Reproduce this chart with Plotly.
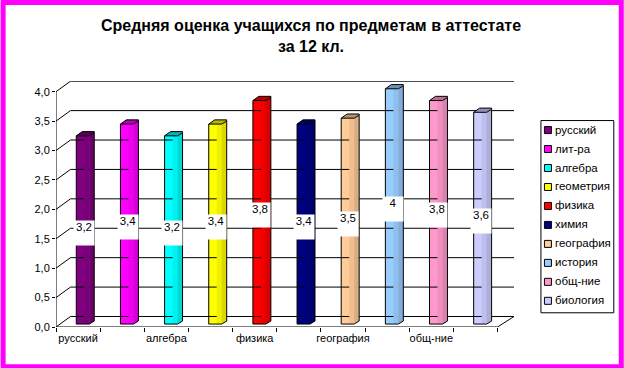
import plotly.graph_objects as go

subjects = ["русский", "лит-ра", "алгебра", "геометрия", "физика", "химия", "география", "история", "общ-ние", "биология"]
values = [3.2, 3.4, 3.2, 3.4, 3.8, 3.4, 3.5, 4.0, 3.8, 3.6]
value_labels = ["3,2", "3,4", "3,2", "3,4", "3,8", "3,4", "3,5", "4", "3,8", "3,6"]
colors = ["#800080", "#FF00FF", "#00FFFF", "#FFFF00", "#FF0000", "#000080", "#FFCC99", "#99CCFF", "#FF99CC", "#CCCCFF"]
y_ticks = [0, 0.5, 1, 1.5, 2, 2.5, 3, 3.5, 4]
y_tick_labels = ["0,0", "0,5", "1,0", "1,5", "2,0", "2,5", "3,0", "3,5", "4,0"]
x_label_every = 2

W, H = 624, 368
X0, X_BACK_R = 55.5, 514.5
X_FRONT_R = 498.0
Y0, Y4, Y_TOP = 326.7, 91.7, 81.0
PX_X = (X_FRONT_R - X0) / len(subjects)
PX_Y = (Y0 - Y4) / 4
DX, DY = 14.5 / PX_X, 10.5 / PX_Y
x_max = (X_BACK_R - X0) / PX_X - 0.5
y_max = (Y0 - Y_TOP) / PX_Y


def shade(hex_color, f):
    r, g, b = (int(hex_color[i:i + 2], 16) for i in (1, 3, 5))
    return f"rgb({int(r * f)},{int(g * f)},{int(b * f)})"


def px(x):
    return (x - X0) / (X_BACK_R - X0)


def py(y):
    return (Y0 - y) / (Y0 - Y_TOP)


fig = go.Figure()
BLACK = dict(color="black", width=1)

# Perspective gridlines and floor
for v in y_ticks:
    fig.add_trace(go.Scatter(x=[-0.5, -0.5 + DX, x_max], y=[v, v + DY, v + DY], mode="lines", line=BLACK, hoverinfo="skip"))
fig.add_trace(go.Scatter(x=[-0.5, -0.5], y=[0, 4], mode="lines", line=BLACK, hoverinfo="skip"))
fig.add_trace(go.Scatter(x=[-0.5, 9.5, x_max], y=[0, 0, DY], mode="lines", line=BLACK, hoverinfo="skip"))

# Cylinders
bar_shift = 7.2 / PX_X
half = 9.0 / PX_X
lift = 0.05
rise = 3.0 / PX_Y
cap = 4.0 / PX_Y
split = 5.0 / PX_X
mid = 1.0 / PX_X
for i, (v, c) in enumerate(zip(values, colors)):
    cx = i + bar_shift
    l, r = cx - half, cx + half
    s = r - split
    m = cx - mid
    fig.add_trace(go.Bar(x=[(l + s) / 2], y=[v], base=lift, width=[s - l], marker=dict(color=c, line=dict(width=0)), hoverinfo="skip"))
    fig.add_trace(go.Scatter(x=[m, s + 0.01, s + 0.01, m, m], y=[lift, lift, v + lift, v + lift, lift],
                             mode="none", fill="toself", fillcolor=shade(c, 0.94), hoverinfo="skip"))
    fig.add_trace(go.Scatter(x=[s, r, r, s, s], y=[lift, lift + rise, v + lift + rise, v + lift, lift],
                             mode="none", fill="toself", fillcolor=shade(c, 0.85), hoverinfo="skip"))
    fig.add_trace(go.Scatter(x=[l, l, s, r, r], y=[v + lift, lift, lift, lift + rise, v + lift + rise],
                             mode="lines", line=BLACK, hoverinfo="skip"))
    fig.add_trace(go.Scatter(x=[l, s, r, r, l + 6 / PX_X, l], y=[v + lift, v + lift, v + lift + rise, v + lift + rise + cap * 0.3, v + lift + rise + cap * 0.3, v + lift],
                             mode="lines", fill="toself", fillcolor=shade(c, 0.72), line=BLACK, hoverinfo="skip"))

annotations = []
for i, (v, t) in enumerate(zip(values, value_labels)):
    annotations.append(dict(x=i + 5.5 / PX_X, y=v / 2, text=t, showarrow=False, width=20, height=24, bgcolor="white",
                            valign="top", align="center", borderpad=0, font=dict(family="Liberation Sans", size=11.5, color="black")))

# Legend box
LX0, LX1, LY0, LY1 = 541.5, 614.5, 120.5, 312.5
shapes = [dict(type="rect", xref="paper", yref="paper", x0=px(LX0), x1=px(LX1), y0=py(LY1), y1=py(LY0),
               fillcolor="white", line=BLACK)]
for i, (name, c) in enumerate(zip(subjects, colors)):
    yc = 130 + i * 18.95
    shapes.append(dict(type="rect", xref="paper", yref="paper", x0=px(545), x1=px(552), y0=py(yc + 3.5), y1=py(yc - 3.5),
                       fillcolor=c, line=BLACK))
    annotations.append(dict(xref="paper", yref="paper", x=px(554), y=py(yc - 0.5), text=name, showarrow=False,
                            xanchor="left", yanchor="middle", font=dict(family="Liberation Sans", size=11.5, color="black")))

# Magenta frame
shapes.append(dict(type="rect", xref="paper", yref="paper", x0=px(2.5), x1=px(622), y0=py(366.5), y1=py(2.5),
                   fillcolor="rgba(0,0,0,0)", line=dict(color="#FF00FF", width=5)))

fig.update_layout(
    width=W, height=H, margin=dict(l=X0, r=W - X_BACK_R, t=Y_TOP, b=H - Y0, pad=0),
    paper_bgcolor="white", plot_bgcolor="white", showlegend=False, barmode="overlay",
    title=dict(text="<b>Средняя оценка учащихся по предметам в аттестате<br>за 12 кл.</b>", x=311 / W, xanchor="center",
               y=1 - 31 / H, yanchor="top", font=dict(family="Liberation Sans", size=16, color="black")),
    xaxis=dict(range=[-0.5, x_max], showgrid=False, zeroline=False, showline=False,
               tickvals=list(range(0, len(subjects), x_label_every)), ticktext=subjects[::x_label_every], ticks="",
               tickfont=dict(family="Liberation Sans", size=11, color="black"), ticklabelstandoff=3,
               minor=dict(tickvals=[i - 0.5 for i in range(len(subjects) + 1)], ticks="outside", ticklen=4, tickcolor="black", tickwidth=1, showgrid=False)),
    yaxis=dict(range=[0, y_max], showgrid=False, zeroline=False, showline=False, tickvals=y_ticks, ticktext=y_tick_labels,
               ticks="outside", ticklen=3, tickcolor="black", tickfont=dict(family="Liberation Sans", size=11, color="black")),
    shapes=shapes, annotations=annotations,
)
fig.write_html("out.html", config={"displayModeBar": False}, post_script="document.body.style.margin='0';")
